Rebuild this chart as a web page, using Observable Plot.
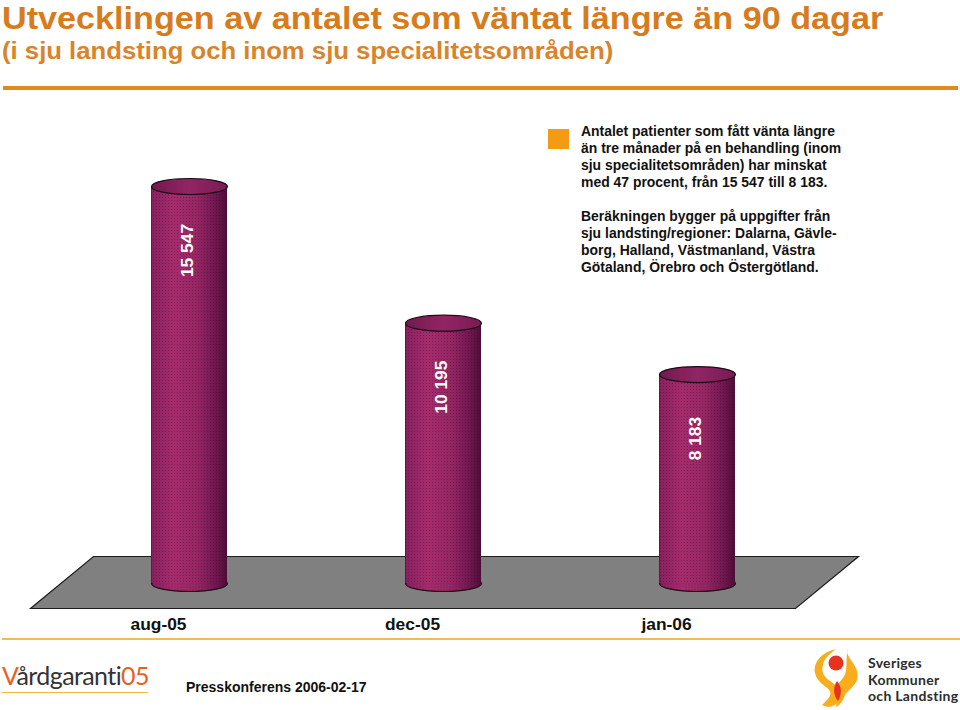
<!DOCTYPE html>
<html lang="sv">
<head>
<meta charset="utf-8">
<script src="https://cdn.jsdelivr.net/npm/d3@7"></script>
<script src="https://cdn.jsdelivr.net/npm/@observablehq/plot@0.6"></script>
<style>
  html,body{margin:0;padding:0;background:#fff;}
  body{width:960px;height:710px;position:relative;overflow:hidden;font-family:"Liberation Sans",Arial,sans-serif;}
  .abs{position:absolute;white-space:nowrap;}
  #title{left:2px;top:2px;font-size:32px;line-height:32px;font-weight:700;color:#d67c1c;transform:scaleX(1.068);transform-origin:0 0;}
  #subtitle{left:2px;top:37px;font-size:24.6px;line-height:28px;font-weight:700;color:#d8842a;transform:scaleX(1.045);transform-origin:0 0;}
  #rule{left:3px;top:86px;width:955px;height:4px;background:#e08a20;}
  #chart{position:absolute;left:0;top:92px;}
  #swatch{left:548px;top:129px;width:21px;height:20px;background:#f59a14;}
  .note{left:581px;font-size:13.95px;line-height:17px;font-weight:700;color:#111;}
  #footrule{left:2px;top:638px;width:958px;height:2px;background:#f2bb55;}
  #vg{left:2px;top:657px;font-family:"Lato",sans-serif;font-size:25px;line-height:36px;color:#333;letter-spacing:-.6px;}
  #vg b{font-weight:400;color:#e8601c;}
  #vgline{left:2px;top:692px;width:146px;height:1px;background:#f0b840;}
  #press{left:186px;top:679px;font-size:14px;line-height:17px;font-weight:700;color:#111;}
  #skl{left:868px;top:655px;font-family:"Lato",sans-serif;font-size:14px;line-height:16.5px;font-weight:700;color:#2c2c2c;letter-spacing:.3px;}
  #flame{left:812px;top:645px;}
</style>
</head>
<body>
<div class="abs" id="title">Utvecklingen av antalet som väntat längre än 90 dagar</div>
<div class="abs" id="subtitle">(i sju landsting och inom sju specialitetsområden)</div>
<div class="abs" id="rule"></div>
<div id="chart"></div>
<div class="abs" id="swatch"></div>
<div class="abs note" style="top:123px">Antalet patienter som fått vänta längre<br>än tre månader på en behandling (inom<br>sju specialitetsområden) har minskat<br>med 47 procent, från 15 547 till 8 183.</div>
<div class="abs note" style="top:208px">Beräkningen bygger på uppgifter från<br>sju landsting/regioner: Dalarna, Gävle-<br>borg, Halland, Västmanland, Västra<br>Götaland, Örebro och Östergötland.</div>
<div class="abs" id="footrule"></div>
<div class="abs" id="vg"><b>V</b>årdgaranti<b>05</b></div>
<div class="abs" id="vgline"></div>
<div class="abs" id="press">Presskonferens 2006-02-17</div>
<svg class="abs" id="flame" width="50" height="66" viewBox="0 0 50 66">
  <path fill="#f8ad1c" d="M24 4C10 7 1 17 3 28C5 38 15 41 18 46C20 51 15 55 10 60C17 64 25 61 27 54C29 47 25 40 18 36C12 32 9 27 11 20C12 13 18 9 24 4Z"/>
  <path fill="#f8ad1c" d="M36 3C33 8 38 13 41 18C45 24 47 28 45 35C43 41 36 45 33 50C31 56 28 60 24 62C25 55 24 49 24 44C25 38 33 33 34 26C35 18 34 10 36 3Z"/>
  <circle cx="24" cy="18" r="7.5" fill="#e8321e"/>
  <path fill="#e8321e" d="M25 36C30 42 30 49 26 56C21 50 21 42 25 36Z"/>
</svg>
<div class="abs" id="skl">Sveriges<br>Kommuner<br>och Landsting</div>

<script>
// Data
const periods = ["aug-05", "dec-05", "jan-06"];
const counts = [15547, 10195, 8183];
const valueLabels = ["15 547", "10 195", "8 183"];

const rows = periods.map((period, i) => ({period, count: counts[i], label: valueLabels[i]}));

const ellipse = (rx, ry) => ({
  draw(c) {
    const k = 0.5523;
    c.moveTo(-rx, 0);
    c.bezierCurveTo(-rx, -ry * k, -rx * k, -ry, 0, -ry);
    c.bezierCurveTo(rx * k, -ry, rx, -ry * k, rx, 0);
    c.bezierCurveTo(rx, ry * k, rx * k, ry, 0, ry);
    c.bezierCurveTo(-rx * k, ry, -rx, ry * k, -rx, 0);
    c.closePath();
  }
});
const floorShape = {
  draw(c) {
    c.moveTo(-350, -27);
    c.lineTo(415, -27);
    c.lineTo(352, 25);
    c.lineTo(-413, 25);
    c.closePath();
  }
};

const defs = () => {
  const d = d3.create("svg:defs");
  const g = d.append("linearGradient").attr("id", "cyl");
  [["0%", "#5c1040"], ["2%", "#8a2060"], ["30%", "#a62c6c"], ["60%", "#962664"], ["85%", "#701750"], ["100%", "#4e0d38"]]
    .forEach(([o, c]) => g.append("stop").attr("offset", o).attr("stop-color", c));
  const t = d.append("linearGradient").attr("id", "cap");
  [["0%", "#72194f"], ["50%", "#922563"], ["100%", "#781b54"]]
    .forEach(([o, c]) => t.append("stop").attr("offset", o).attr("stop-color", c));
  const p = d.append("pattern").attr("id", "dots").attr("width", 3).attr("height", 3).attr("patternUnits", "userSpaceOnUse");
  p.append("rect").attr("width", 1).attr("height", 1).attr("fill", "#300522").attr("fill-opacity", 0.35);
  return d.node();
};

const chart = Plot.plot({
  width: 960,
  height: 540,
  marginTop: 0,
  marginLeft: 0,
  marginRight: 0,
  marginBottom: 24,
  style: {background: "transparent", overflow: "visible"},
  x: {type: "band", domain: periods, range: [62, 825], paddingInner: 0.7, paddingOuter: 0.35, label: null},
  y: {domain: [0, 15547], range: [491, 94], axis: null},
  marks: [
    defs,
    Plot.dot(["dec-05"], {x: d => d, y: () => 0, symbol: floorShape, fill: "#808080", stroke: "#1c1c1c", strokeWidth: 1.2}),
    Plot.dot(rows, {x: "period", y: () => 0, symbol: ellipse(38, 8), fill: "url(#cyl)", stroke: "#1c0c16", strokeWidth: 1.2}),
    Plot.dot(rows, {x: "period", y: () => 0, symbol: ellipse(38, 8), fill: "url(#dots)"}),
    Plot.barY(rows, {x: "period", y: "count", fill: "url(#cyl)"}),
    Plot.barY(rows, {x: "period", y: "count", fill: "url(#dots)"}),
    Plot.dot(rows, {x: "period", y: "count", symbol: ellipse(38, 8), fill: "url(#cap)", stroke: "#1c0c16", strokeWidth: 1.2}),
    Plot.text(rows, {x: "period", y: "count", text: "label", rotate: -90, dy: 64, dx: -2, fill: "#fff", fontSize: 17.4, fontWeight: 700, fontFamily: "Liberation Sans"}),
    Plot.axisX({anchor: "bottom", tickSize: 0, tickPadding: 9, dx: -31, fontSize: 17.4, fontWeight: 700, fontFamily: "Liberation Sans", fill: "#111", label: null})
  ]
});
document.getElementById("chart").appendChild(chart);
</script>
</body>
</html>
